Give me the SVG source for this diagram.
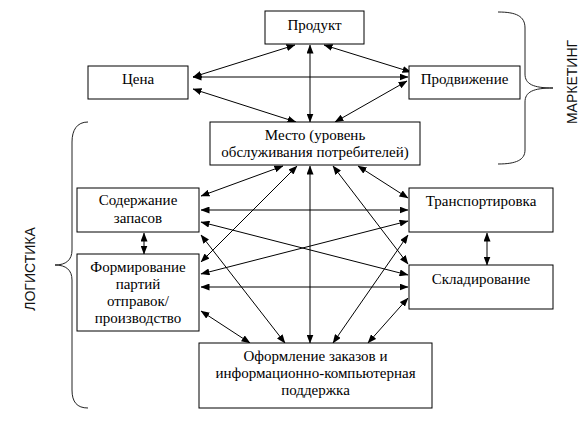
<svg xmlns="http://www.w3.org/2000/svg" width="588" height="422" viewBox="0 0 588 422">
<style>
.box{fill:#fff;stroke:#000;stroke-width:1}
.t{font-family:"Liberation Serif","Times New Roman",serif;font-size:15px;fill:#000;text-anchor:middle}
.c line{stroke:#000;stroke-width:1;marker-start:url(#ah);marker-end:url(#ah)}
.brace{fill:none;stroke:#222;stroke-width:1}
.lbl{font-family:"Liberation Sans",Arial,sans-serif;font-size:14px;fill:#111;text-anchor:middle}
</style>
<defs>
<marker id="ah" markerWidth="9" markerHeight="7" refX="8.5" refY="3.5" orient="auto-start-reverse" markerUnits="userSpaceOnUse">
<path d="M0,0 L9,3.5 L0,7 z" fill="#000"/>
</marker>
</defs>
<rect width="588" height="422" fill="#fff"/>
<g id="connectors" class="c">
<line x1="295" y1="45" x2="193" y2="77"/>
<line x1="193" y1="77" x2="408" y2="77"/>
<line x1="193" y1="89" x2="296" y2="122"/>
<line x1="310" y1="45" x2="310" y2="122"/>
<line x1="324" y1="45" x2="411" y2="72"/>
<line x1="335" y1="122" x2="407" y2="81"/>
<line x1="144" y1="233" x2="144" y2="254"/>
<line x1="487" y1="233" x2="487" y2="265"/>
<line x1="283" y1="166" x2="201" y2="196"/>
<line x1="297" y1="166" x2="201" y2="262"/>
<line x1="310" y1="166" x2="310" y2="343"/>
<line x1="333" y1="166" x2="408" y2="264"/>
<line x1="358" y1="166" x2="408" y2="198"/>
<line x1="201" y1="210" x2="408" y2="210"/>
<line x1="201" y1="287" x2="408" y2="287"/>
<line x1="201" y1="222" x2="408" y2="275"/>
<line x1="408" y1="221" x2="201" y2="274"/>
<line x1="201" y1="235" x2="285" y2="343"/>
<line x1="201" y1="311" x2="250" y2="343"/>
<line x1="408" y1="235" x2="333" y2="343"/>
<line x1="408" y1="298" x2="368" y2="343"/>
</g>
<g id="product"><rect class="box" x="265" y="11" width="99" height="33"/><text class="t" x="314.5" y="30">Продукт</text></g>
<g id="price"><rect class="box" x="88" y="66" width="100" height="33"/><text class="t" x="138" y="84">Цена</text></g>
<g id="promotion"><rect class="box" x="409" y="66" width="111" height="33"/><text class="t" x="464.5" y="84">Продвижение</text></g>
<g id="place"><rect class="box" x="210" y="122" width="210" height="43"/><text class="t" x="315" y="140">Место (уровень</text><text class="t" x="315" y="157">обслуживания потребителей)</text></g>
<g id="inventory"><rect class="box" x="77" y="188" width="122" height="44"/><text class="t" x="138" y="205">Содержание</text><text class="t" x="138" y="223">запасов</text></g>
<g id="transport"><rect class="box" x="409" y="188" width="144" height="44"/><text class="t" x="481" y="206">Транспортировка</text></g>
<g id="lots"><rect class="box" x="77" y="254" width="122" height="77"/><text class="t" x="138" y="272">Формирование</text><text class="t" x="138" y="289">партий</text><text class="t" x="138" y="306">отправок/</text><text class="t" x="138" y="323">производство</text></g>
<g id="warehouse"><rect class="box" x="409" y="265" width="144" height="44"/><text class="t" x="481" y="284">Складирование</text></g>
<g id="orders"><rect class="box" x="199" y="343" width="233" height="65"/><text class="t" x="315.5" y="361">Оформление заказов и</text><text class="t" x="315.5" y="378">информационно-компьютерная</text><text class="t" x="315.5" y="395">поддержка</text></g>
<g id="marketing">
<path class="brace" d="M498,12 C516,12 525,16 525,28 L525,74 C525,84 533,88 553,88 C533,88 525,92 525,102 L525,150 C525,160 516,164 498,164"/>
<text class="lbl" transform="translate(577,82) rotate(-90)">МАРКЕТИНГ</text>
</g>
<g id="logistics">
<path class="brace" d="M88,122 C77,122 72,130 72,142 L72,250 C72,260 66,265 55,265 C66,265 72,270 72,280 L72,390 C72,402 77,408 88,408"/>
<text class="lbl" transform="translate(35,269) rotate(-90)">ЛОГИСТИКА</text>
</g>
</svg>
